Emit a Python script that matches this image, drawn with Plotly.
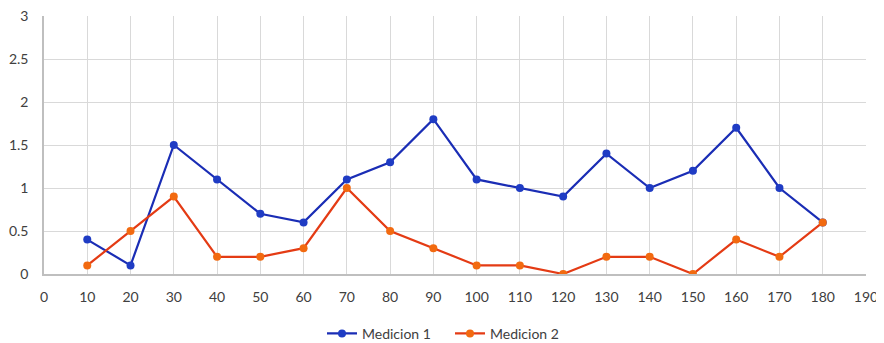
import plotly.graph_objects as go

x_vals = [10, 20, 30, 40, 50, 60, 70, 80, 90, 100, 110, 120, 130, 140, 150, 160, 170, 180]
medicion1 = [0.4, 0.1, 1.5, 1.1, 0.7, 0.6, 1.1, 1.3, 1.8, 1.1, 1.0, 0.9, 1.4, 1.0, 1.2, 1.7, 1.0, 0.6]
medicion2 = [0.1, 0.5, 0.9, 0.2, 0.2, 0.3, 1.0, 0.5, 0.3, 0.1, 0.1, 0.0, 0.2, 0.2, 0.0, 0.4, 0.2, 0.6]
x_ticks = list(range(0, 191, 10))
y_ticks = [0, 0.5, 1, 1.5, 2, 2.5, 3]

fig = go.Figure()
fig.add_trace(go.Scatter(x=x_vals, y=medicion1, mode="lines+markers", name="Medicion 1",
                         line=dict(color="#1A2DB5", width=2.2),
                         marker=dict(color="#1F3CC4", size=8)))
fig.add_trace(go.Scatter(x=x_vals, y=medicion2, mode="lines+markers", name="Medicion 2",
                         line=dict(color="#E43B14", width=2.2),
                         marker=dict(color="#F26A10", size=8)))

fig.update_layout(
    width=884, height=343,
    margin=dict(l=36, r=26, t=8, b=77, autoexpand=False),
    paper_bgcolor="white", plot_bgcolor="white",
    font=dict(family="Lato, Open Sans, sans-serif", size=14, color="#404040"),
    legend=dict(orientation="h", x=0.5, xanchor="center", xref="container",
                y=0.05, yanchor="middle", yref="container",
                font=dict(size=14, color="#404040"), entrywidth=83),
    showlegend=True,
)
fig.update_xaxes(range=[0, 190], tickvals=x_ticks, ticktext=[str(v) for v in x_ticks],
                 showgrid=True, gridcolor="#D9D9D9", gridwidth=1,
                 showline=True, linecolor="#BFBFBF", linewidth=1.5,
                 zeroline=False, ticks="", ticklabelstandoff=9, automargin=False,
                 ticklabeloverflow="allow")
fig.update_yaxes(range=[0, 3], tickvals=y_ticks, ticktext=["0", "0.5", "1", "1.5", "2", "2.5", "3"],
                 showgrid=True, gridcolor="#D9D9D9", gridwidth=1,
                 showline=True, linecolor="#BFBFBF", linewidth=1.5,
                 zeroline=False, ticks="", ticklabelstandoff=11, automargin=False,
                 ticklabeloverflow="allow")

fig.write_html("out.html")
